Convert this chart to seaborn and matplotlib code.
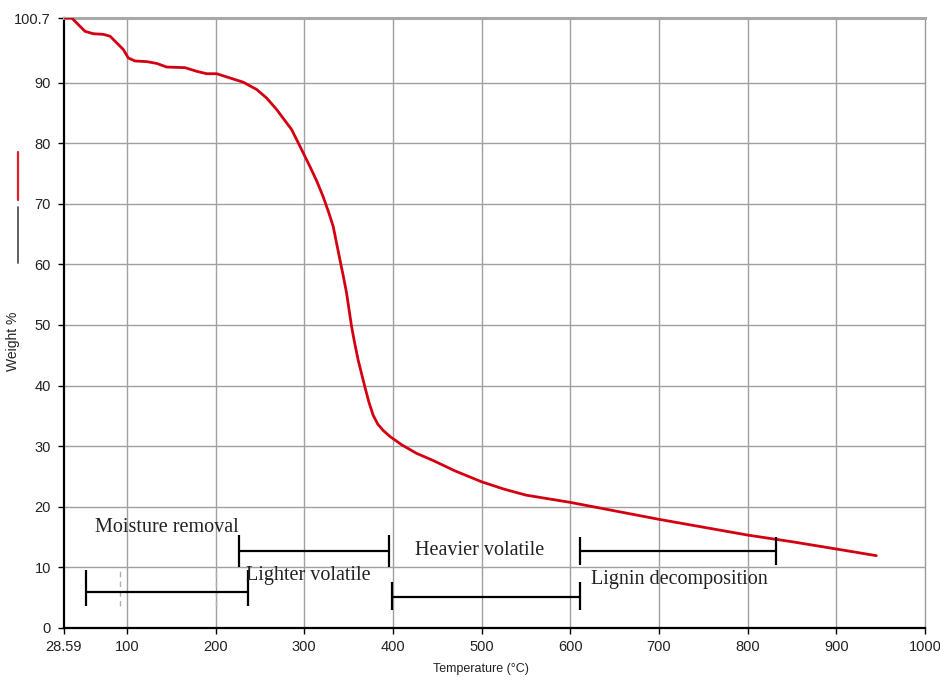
import matplotlib
matplotlib.use("Agg")
import matplotlib.pyplot as plt
from matplotlib.lines import Line2D
import seaborn as sns
import pandas as pd

# TGA curve
temperature = [28.6, 37.8, 45.3, 52.8, 62.2, 73.4, 81, 88.5, 96, 101.6, 109.2, 122.3,
               133.6, 144.9, 165.5, 178.7, 189.9, 201.2, 216.2, 231.2, 246.3, 257.5,
               268.8, 280, 285.7, 293.2, 306.3, 314, 321.3, 328, 332.6, 340.2, 344,
               347.7, 353.3, 357, 360.8, 368.3, 373, 377.7, 383, 388.9, 396.5, 410,
               426.6, 445.6, 470, 500, 525, 550, 600, 650,
               700, 750, 800, 850, 900, 945]
weight = [100.7, 100.7, 99.6, 98.5, 98.1, 98.0, 97.7, 96.6, 95.5, 94.1, 93.6, 93.5,
          93.2, 92.6, 92.5, 91.9, 91.5, 91.5, 90.8, 90.1, 88.9, 87.5,
          85.6, 83.4, 82.3, 80.1, 76.2, 73.8, 71.2, 68.4, 66.3, 60.8, 58.1,
          55.3, 49.8, 46.9, 44.2, 39.8, 37.2, 35.1, 33.6, 32.6, 31.6, 30.2,
          28.8, 27.6, 25.9, 24.1, 22.9, 21.9, 20.7, 19.3,
          17.9, 16.6, 15.3, 14.2, 13.0, 11.9]

# stage brackets: start, end, level, cap bottom, cap top
stage_start = [53.9, 226.3, 399.1, 611.3]
stage_end = [236.8, 395.7, 611.3, 832.2]
stage_level = [5.95, 12.7, 5.1, 12.7]
cap_low = [3.6, 10.1, 2.9, 10.4]
cap_high = [9.5, 15.3, 7.6, 14.9]

stage_labels = ["Moisture removal", "Lighter volatile", "Heavier volatile", "Lignin decomposition"]
label_x = [64.1, 233.9, 424.6, 623.7]
label_y = [16.5, 8.7, 12.8, 7.9]

x_ticks = [28.59, 100, 200, 300, 400, 500, 600, 700, 800, 900, 1000]
x_ticklabels = ["28.59", "100", "200", "300", "400", "500", "600", "700", "800", "900", "1000"]
y_ticks = [0, 10, 20, 30, 40, 50, 60, 70, 80, 90, 100.7]
y_ticklabels = ["0", "10", "20", "30", "40", "50", "60", "70", "80", "90", "100.7"]

sns.set_style("white")
plt.rcParams["font.family"] = ["Liberation Sans", "DejaVu Sans"]

df = pd.DataFrame({"temp": temperature, "weight": weight})

fig = plt.figure(figsize=(9.4, 6.82), dpi=100)
ax = fig.add_axes([0.0676, 0.0796, 0.9165, 0.894])

# grid drawn by hand so it stops short of the spines
for t in x_ticks[1:-1]:
    ax.axvline(t, color="#a0a0a0", lw=1, zorder=0)
for w in y_ticks[1:-1]:
    ax.axhline(w, color="#a0a0a0", lw=1, zorder=0)

sns.lineplot(data=df, x="temp", y="weight", color="#d40012", lw=2.0, ax=ax, zorder=3)

# faint dash marks near the first bracket
ax.vlines([92, 200], 3.6, 9.5, colors="#b0b0b0", linestyles=(0, (4, 3)), lw=1, zorder=1)

for s, e, lv, lo, hi in zip(stage_start, stage_end, stage_level, cap_low, cap_high):
    ax.plot([s, e], [lv, lv], color="black", lw=1.6, zorder=4)
    ax.vlines([s, e], lo, hi, colors="black", lw=1.6, zorder=4)

for txt, tx, ty in zip(stage_labels, label_x, label_y):
    ax.text(tx, ty, txt, family=["Liberation Serif", "DejaVu Serif"], fontsize=14.5,
            color="#222222", va="center", ha="left", zorder=5)

ax.set_xlim(28.59, 1000)
ax.set_ylim(0, 100.7)
ax.set_xticks(x_ticks)
ax.set_xticklabels(x_ticklabels)
ax.set_yticks(y_ticks)
ax.set_yticklabels(y_ticklabels)
ax.tick_params(axis="both", direction="out", length=4, width=1, color="black",
               labelsize=10.5, labelcolor="#222222", pad=5)
ax.tick_params(axis="both", which="both", bottom=True, left=True)

for side in ["left", "bottom"]:
    ax.spines[side].set_color("black")
    ax.spines[side].set_linewidth(1.6)
ax.spines["top"].set_color("#a8a8a8")
ax.spines["top"].set_linewidth(2.2)
ax.spines["right"].set_color("#9a9a9a")
ax.spines["right"].set_linewidth(1)

ax.set_xlabel("Temperature (°C)", fontsize=9, color="#222222")
ax.set_ylabel("Weight %", fontsize=10, color="#222222")
ax.xaxis.set_label_coords(0.484, -0.058)
ax.yaxis.set_label_coords(-0.05, 0.47)

# little legend strokes at the far left
fig.add_artist(Line2D([0.0195, 0.0195], [1 - 151.7 / 682, 1 - 200 / 682], color="#e0202a", lw=1.6))
fig.add_artist(Line2D([0.0195, 0.0195], [1 - 207 / 682, 1 - 263 / 682], color="#444444", lw=1.2))

fig.savefig("out.png", dpi=100)
